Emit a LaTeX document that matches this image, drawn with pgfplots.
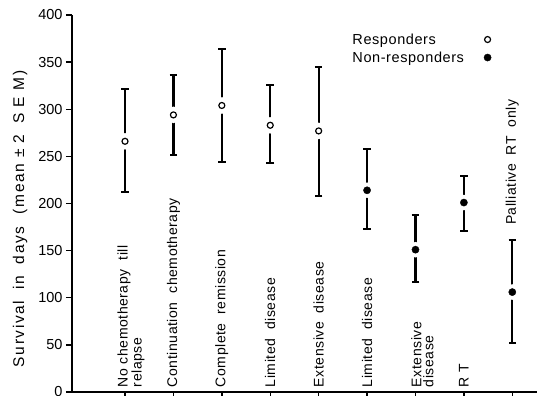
\documentclass[border=0pt]{standalone}
\usepackage{fontspec}
\setmainfont{Liberation Sans}
\usepackage{pgfplots}
\pgfplotsset{compat=1.18}
\usepackage{pgfplotstable}

\pgfplotstableread{
x y ep em
1 266 55 54
2 294 42 43
3 304 60 60
4 283 43 40
5 277 68 69
}\resp
\pgfplotstableread{
x y ep em
6 214 44 41
7 151 37 34
8 201 28 30
9 106 55 54
}\nonresp

\newcommand{\catfont}{\fontsize{14}{12}\selectfont\addfontfeature{LetterSpace=4}}
\newcommand{\labfont}{\fontsize{15.5}{16}\selectfont\addfontfeature{LetterSpace=10}}

\begin{document}
\begin{tikzpicture}
\useasboundingbox (-72pt,-4pt) rectangle (467pt,392pt);
\begin{axis}[
  at={(0,0)}, anchor=south west,
  scale only axis, width=465pt, height=377pt,
  xmin=-0.095, xmax=9.51, ymin=0, ymax=400,
  axis x line*=bottom, axis y line*=left,
  axis line style={line width=1.8pt},
  ytick={0,50,...,400}, xtick={1,...,9}, xticklabels={},
  tick align=outside, major tick length=6pt,
  tick style={line width=1.4pt, black},
  /pgf/number format/assume math mode=true,
  yticklabel style={font=\fontsize{14.5}{16}\selectfont},
  ylabel={\labfont Survival\ \ in\ \ days\ \ (\,mean\ ±\ 2\ \ S\ E\ M\,)},
  ylabel style={at={(ticklabel cs:0.46)}, yshift=4pt},
  clip=false,
  legend plot pos=right,
  legend cell align=left,
  legend style={at={(axis description cs:0.592,0.962)}, anchor=north west,
    draw=none, fill=none, font=\fontsize{14.5}{16}\selectfont\addfontfeature{LetterSpace=4},
    row sep=2pt},
]
% Responders
\addplot[only marks, mark=none, forget plot,
  error bars/.cd, y dir=both, y explicit, error mark=|,
  error bar style={line width=2.2pt, black},
  error mark options={line width=2pt, mark size=3.8pt, black}]
  table[x=x, y=y, y error plus=ep, y error minus=em]{\resp};
\addplot[only marks, mark=*, mark size=8pt, mark options={fill=white, draw=white}, forget plot]
  table[x=x, y=y]{\resp};
\addplot[only marks, mark=o, mark size=3pt, mark options={line width=1.2pt, black, fill=white}]
  table[x=x, y=y]{\resp};
\addlegendentry{Responders}
% Non-responders
\addplot[only marks, mark=none, forget plot,
  error bars/.cd, y dir=both, y explicit, error mark=|,
  error bar style={line width=2.2pt, black},
  error mark options={line width=2pt, mark size=3.8pt, black}]
  table[x=x, y=y, y error plus=ep, y error minus=em]{\nonresp};
\addplot[only marks, mark=*, mark size=7.5pt, mark options={fill=white, draw=white}, forget plot]
  table[x=x, y=y]{\nonresp};
\addplot[only marks, mark=*, mark size=3.6pt, mark options={black, fill=black}]
  table[x=x, y=y]{\nonresp};
\addlegendentry{Non-responders\hspace*{18pt}}

% Category labels
\begin{scope}[every node/.style={rotate=90, anchor=west, inner sep=0pt, font=\catfont, align=left}]
\node at ([xshift=6pt]axis cs:1,5) {No\ chemotherapy\ \ till\\relapse};
\node at (axis cs:2,5) {Continuation\ \ chemotherapy};
\node at (axis cs:3,5) {Complete\ \ remission};
\node at (axis cs:4,5) {Limited\ \ disease};
\node at (axis cs:5,5) {Extensive\ \ disease};
\node at (axis cs:6,5) {Limited\ \ disease};
\node at ([xshift=7pt]axis cs:7,5) {Extensive\\disease};
\node at (axis cs:8,5) {R\ T};
\node at (axis cs:9,177) {Palliative\ \ RT\ \ only};
\end{scope}
\end{axis}
\end{tikzpicture}
\end{document}
